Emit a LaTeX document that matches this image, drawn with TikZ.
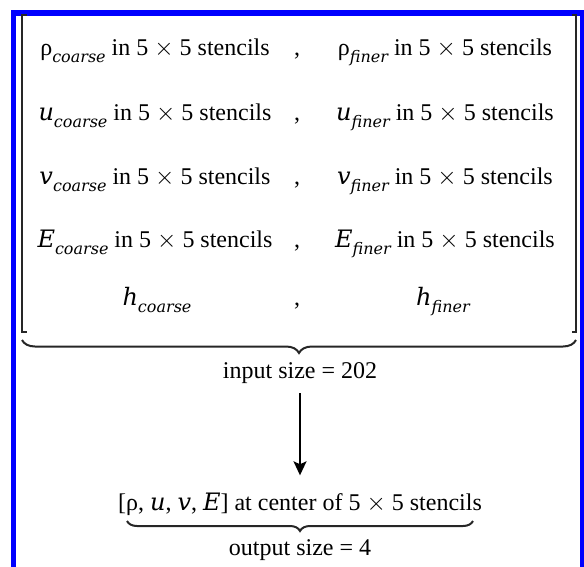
\documentclass[tikz,border=0pt]{standalone}
\usepackage{fontspec}
\setmainfont{Liberation Serif}
\newfontfamily\varfont{DejaVu Serif}
\usetikzlibrary{arrows.meta,positioning,decorations.pathreplacing}

% italic variable with an italic subscript
\newcommand{\vsub}[2]{{\varfont\itshape #1}\raisebox{-0.3em}{\fontsize{16}{16}\selectfont\varfont\itshape #2}}
\newcommand{\vv}[1]{{\varfont\itshape #1}}
\newcommand{\sten}{in 5 $\times$ 5 stencils}

\begin{document}
\begin{tikzpicture}[x=1pt,y=-1pt,
  txt/.style={font=\fontsize{24}{29}\selectfont,inner sep=0pt,anchor=base},
  frame/.style={blue,line width=5.5pt},
  bracket/.style={line width=2.2pt,black!85},
  brace/.style={decorate,decoration={brace,mirror,amplitude=#1},line width=2pt,black!85},
  arr/.style={-{Stealth[length=14pt,width=13pt,inset=3pt]},line width=1.8pt}]
\useasboundingbox (0,0) rectangle (584,566);
\draw[frame] (13.5,570) -- (13.5,13) -- (582.5,13) -- (582.5,570);

% rows of the input vector
\node[txt] (c1) at (155,55) {ρ\raisebox{-0.3em}{\fontsize{16}{16}\selectfont\varfont\itshape coarse} \sten};
\node[txt] (c2) at (155,120) {\vsub{u}{coarse} \sten};
\node[txt] (c3) at (155,184) {\vsub{v}{coarse} \sten};
\node[txt] (c4) at (155,247) {\vsub{E}{coarse} \sten};
\node[txt] (c5) at (157,305) {\vsub{h}{coarse}};
\node[txt] (m1) at (297,55) {,};
\node[txt] (m2) at (297,120) {,};
\node[txt] (m3) at (297,184) {,};
\node[txt] (m4) at (297,247) {,};
\node[txt] (m5) at (297,305) {,};
\node[txt] (f1) at (445,55) {ρ\raisebox{-0.3em}{\fontsize{16}{16}\selectfont\varfont\itshape finer} \sten};
\node[txt] (f2) at (445,120) {\vsub{u}{finer} \sten};
\node[txt] (f3) at (445,184) {\vsub{v}{finer} \sten};
\node[txt] (f4) at (445,247) {\vsub{E}{finer} \sten};
\node[txt] (f5) at (443,305) {\vsub{h}{finer}};

% brackets and braces
\draw[bracket] (26.5,15) -- (22,15) -- (22,332) -- (26.5,332);
\draw[bracket] (571.5,15) -- (576,15) -- (576,332) -- (571.5,332);
\draw[brace=13pt] (22,340) -- (576,340);

\node[txt] (in) at (300,378) {input size = 202};
\node[txt] (out) at (300,510) {[ρ, \vv{u}, \vv{v}, \vv{E}] at center of 5 $\times$ 5 stencils};
\draw[brace=10pt] (127,521) -- (473,521);
\node[txt] (osize) at (300,555) {output size = 4};

\draw[arr,shorten <=10pt,shorten >=17pt] (in) -- (out);
\end{tikzpicture}
\end{document}
